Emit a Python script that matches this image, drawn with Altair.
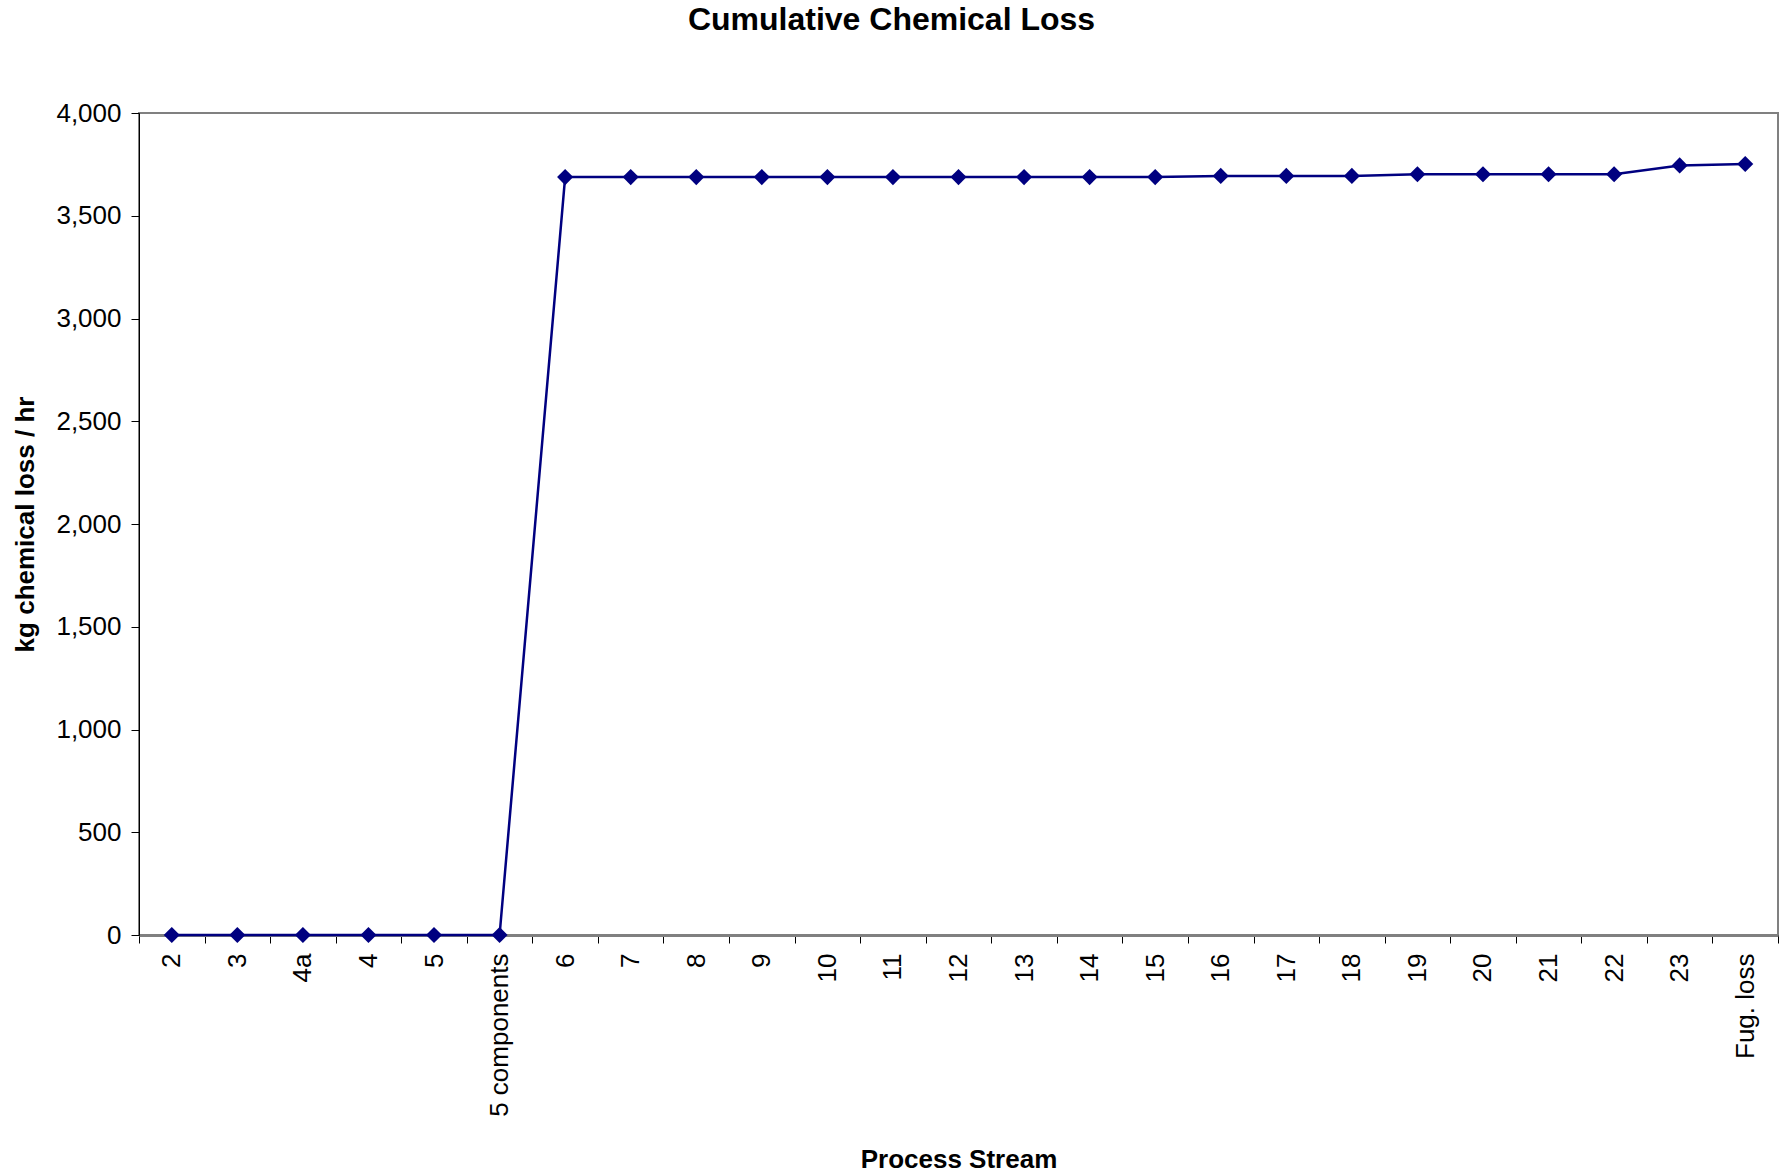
import altair as alt
import pandas as pd

streams = ["2", "3", "4a", "4", "5", "5 components", "6", "7", "8", "9", "10",
           "11", "12", "13", "14", "15", "16", "17", "18", "19", "20", "21",
           "22", "23", "Fug. loss"]
loss = [0, 0, 0, 0, 0, 0, 3688, 3688, 3688, 3688, 3688, 3688, 3688, 3688,
        3688, 3688, 3694, 3694, 3694, 3702, 3702, 3702, 3702, 3745, 3752]
y_ticks = [0, 500, 1000, 1500, 2000, 2500, 3000, 3500, 4000]

df = pd.DataFrame({"stream": streams, "loss": loss})

FONT = "Liberation Sans"

chart = alt.Chart(df).mark_line(
    color="#000080",
    strokeWidth=2.5,
    point=alt.OverlayMarkDef(shape="diamond", size=260, filled=True,
                             color="#000080", opacity=1),
).encode(
    x=alt.X("stream:N", sort=streams,
            scale=alt.Scale(type="band", paddingInner=0, paddingOuter=0),
            axis=alt.Axis(title="Process Stream", labelAngle=-90,
                          tickBand="extent", labelFontSize=26,
                          labelFont=FONT, labelColor="black",
                          labelPadding=10, tickSize=8, tickColor="black",
                          domainColor="#808080", domainWidth=3,
                          titleFont=FONT, titleFontSize=26,
                          titleFontWeight="bold", titleColor="black",
                          titleY=224, titleBaseline="middle")),
    y=alt.Y("loss:Q", scale=alt.Scale(domain=[0, 4000], nice=False),
            axis=alt.Axis(title="kg chemical loss / hr", values=y_ticks,
                          format=",.0f", labelFontSize=26, labelFont=FONT,
                          labelColor="black", labelPadding=10, tickSize=8,
                          tickColor="black", domainColor="black",
                          grid=False, titleFont=FONT, titleFontSize=26,
                          titleFontWeight="bold", titleColor="black",
                          titleX=-114, titleY=411, titleBaseline="middle")),
).properties(
    width=1639,
    height=822,
    title=alt.TitleParams("Cumulative Chemical Loss", font=FONT, fontSize=32,
                          fontWeight="bold", color="black", anchor="middle",
                          offset=63, dx=-67),
    autosize=alt.AutoSizeParams(type="none"),
    padding={"left": 139, "top": 113, "right": 3, "bottom": 241},
).configure_view(stroke="#808080", strokeWidth=2)

chart.save("out.html", embed_options={"renderer": "svg", "actions": False})
